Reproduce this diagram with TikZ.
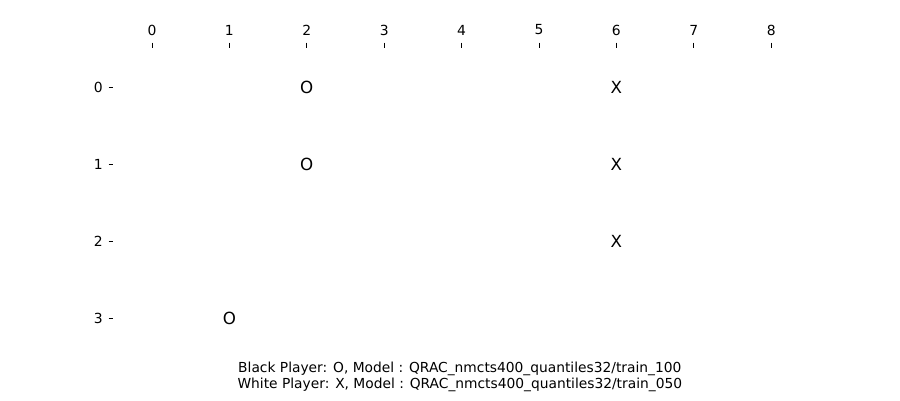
\documentclass[tikz,border=0pt]{standalone}
\usepackage{fontspec}
\setmainfont{DejaVu Sans}

\begin{document}
\begin{tikzpicture}[
			x = 1pt, y = -1pt, % one unit per pixel, rows grow downwards
			font = \fontsize{13.9}{16}\selectfont,
			tick/.style = {line width = 1pt},
			axislabel/.style = {inner sep = 0pt},
			piece/.style = {inner sep = 0pt, font = \fontsize{16.7}{18}\selectfont}
			]
			
			\useasboundingbox (0,0) rectangle (900,400);
			
			% column labels and ticks on top
			\foreach \c in {0,...,8} {
				\node[axislabel] (col\c) at ({152+77.4*\c},30) {\c};
				\draw[tick] ({152+77.4*\c},42.6) -- ({152+77.4*\c},47.5);
			}
			
			% row labels and ticks on the left
			\foreach \r in {0,...,3} {
				\node[axislabel, anchor = east] (row\r) at (103,{87+77.1*\r}) {\r};
				\draw[tick] (108.5,{87+77.1*\r}) -- (113.4,{87+77.1*\r});
			}
			
			% pieces on the board
			\node[piece] (o20) at (306.8,87) {O};
			\node[piece] (o21) at (306.8,164.1) {O};
			\node[piece] (o13) at (229.4,318.3) {O};
			\node[piece] (x60) at (616.4,87) {X};
			\node[piece] (x61) at (616.4,164.1) {X};
			\node[piece] (x62) at (616.4,241.2) {X};
			
			\node[align = center, inner sep = 0pt, font = \fontsize{13.8}{16}\selectfont] (caption) at (459.8,376.5)
				{Black Player: O, Model : QRAC\_nmcts400\_quantiles32/train\_100\\
				 White Player: X, Model : QRAC\_nmcts400\_quantiles32/train\_050};
		\end{tikzpicture}
\end{document}
